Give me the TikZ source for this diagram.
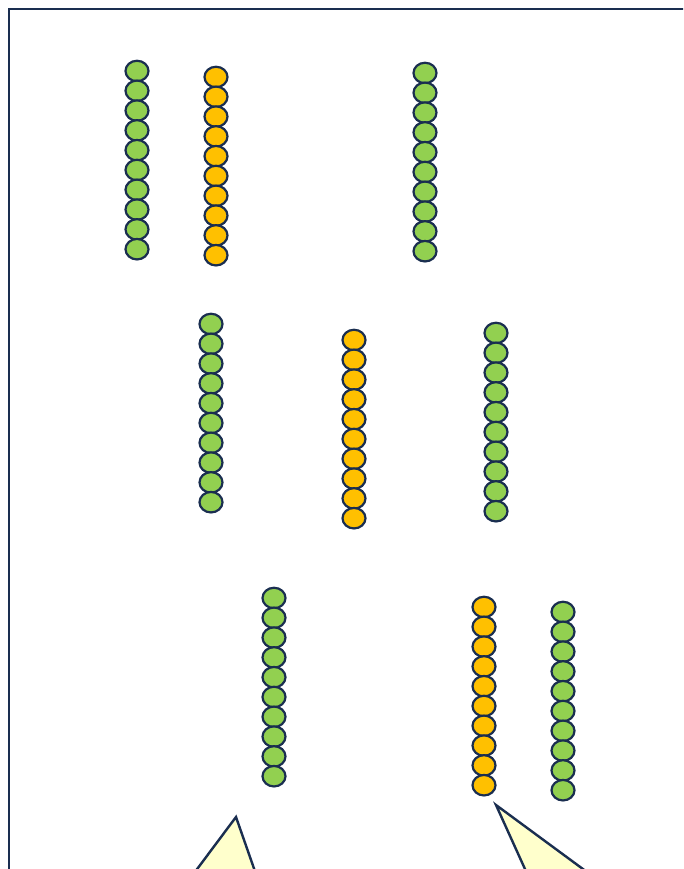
\documentclass[tikz,border=0pt]{standalone}
\usetikzlibrary{shapes.geometric}
\definecolor{navy}{HTML}{1A2E50}
\definecolor{bead green}{HTML}{92D050}
\definecolor{bead orange}{HTML}{FFC000}
\definecolor{pale}{HTML}{FFFFCC}
\tikzset{
  bead/.style={ellipse, draw=navy, line width=2.2pt, minimum width=23pt, minimum height=20.5pt, inner sep=0pt},
  gbead/.style={bead, fill=bead green},
  obead/.style={bead, fill=bead orange},
  frame/.style={draw=navy, line width=2.4pt},
  wedge/.style={draw=navy, line width=2.4pt, fill=pale, line join=miter}
}
\newcommand{\beadcol}[4]{% name, style, x, top y
  \foreach \i in {0,...,9} {
    \node[#2] (#1-\i) at (#3, {-(#4+19.8*\i)}) {};
  }
}
\begin{document}
\begin{tikzpicture}[x=1pt,y=1pt]
\useasboundingbox (0,0) rectangle (683,-869);
\clip (0,0) rectangle (683,-869);
\fill[white] (0,0) rectangle (683,-869);
\draw[frame] (9,-900) -- (9,-9) -- (720,-9);
\beadcol{c1}{gbead}{137}{71}
\beadcol{c2}{obead}{216}{77}
\beadcol{c3}{gbead}{425}{73}
\beadcol{c4}{gbead}{211}{324}
\beadcol{c5}{obead}{354}{340}
\beadcol{c6}{gbead}{496}{333}
\beadcol{c7}{gbead}{274}{598}
\beadcol{c8}{obead}{484}{607}
\beadcol{c9}{gbead}{563}{612}
\coordinate (t1a) at (236,-817);
\coordinate (t1b) at (174,-900);
\coordinate (t1c) at (265,-900);
\draw[wedge] (t1a) -- (t1b) -- (t1c) -- cycle;
\coordinate (t2a) at (496,-805);
\coordinate (t2b) at (539,-900);
\coordinate (t2c) at (625,-900);
\draw[wedge] (t2a) -- (t2b) -- (t2c) -- cycle;
\end{tikzpicture}
\end{document}
